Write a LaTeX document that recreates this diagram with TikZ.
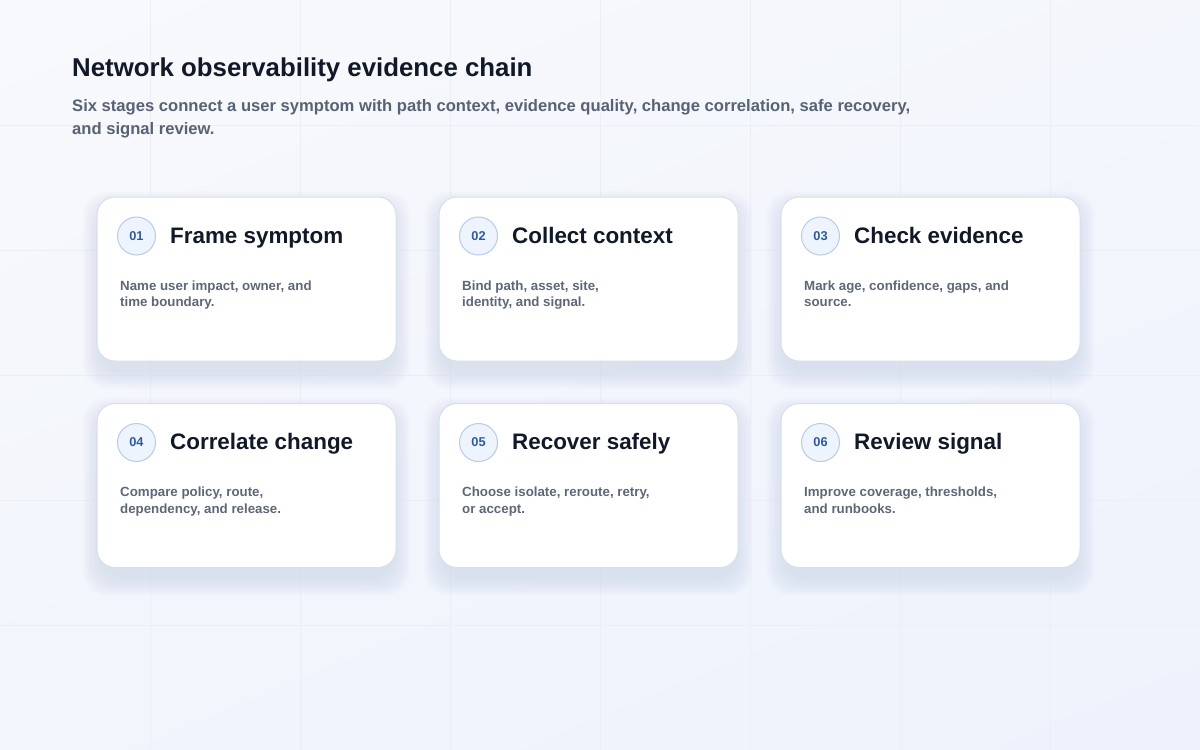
\documentclass[tikz,border=0pt]{standalone}
\usepackage{fontspec}
\setmainfont{Liberation Sans}
\usetikzlibrary{shadings}
\definecolor{ink}{HTML}{111827}
\definecolor{slate}{HTML}{586274}
\definecolor{mute}{HTML}{5E6777}
\definecolor{edge}{HTML}{D8DFEA}
\definecolor{pill}{HTML}{EEF4FD}
\definecolor{pilledge}{HTML}{B9CBE5}
\definecolor{pillink}{HTML}{2F5B9E}
\definecolor{gridline}{HTML}{EAEEF5}
\definecolor{shadowc}{HTML}{8A95B0}
\definecolor{bgtop}{HTML}{F8F9FC}
\definecolor{bgbot}{HTML}{EDF2FC}

\begin{document}
\begin{tikzpicture}[x=1pt, y=-1pt]
		\tikzstyle{card}=[draw=edge, line width=1pt, fill=white, rounded corners=18pt, minimum width=299pt, minimum height=164pt, inner sep=0pt]
		\tikzstyle{badge}=[circle, draw=pilledge, line width=1pt, fill=pill, minimum size=38pt, inner sep=0pt, text=pillink, font=\fontsize{12.8}{14}\selectfont\bfseries]
		\tikzstyle{head}=[anchor=base west, inner sep=0pt, text=ink, font=\fontsize{22.4}{26}\selectfont\bfseries]
		\tikzstyle{note}=[anchor=north west, inner sep=0pt, align=left, text=mute, font=\fontsize{13.3}{16.5}\selectfont\bfseries]
		\useasboundingbox (0,0) rectangle (1200,750);
		% background and grid
		\shade[upper left=bgtop, upper right=bgtop!60!bgbot, lower left=bgtop!40!bgbot, lower right=bgbot] (0,0) rectangle (1200,750);
		\foreach \gx in {150,300,...,1050} \draw[gridline, line width=1pt] (\gx,0) -- (\gx,750);
		\foreach \gy in {125,250,...,625} \draw[gridline, line width=1pt] (0,\gy) -- (1200,\gy);
		% heading
		\node[anchor=base west, inner sep=0pt, text=ink, font=\fontsize{25.8}{30}\selectfont\bfseries] (title) at (72,76) {Network observability evidence chain};
		\node[anchor=north west, inner sep=0pt, align=left, text=slate, font=\fontsize{16.6}{23}\selectfont\bfseries] (subtitle) at (72,99.5) {Six stages connect a user symptom with path context, evidence quality, change correlation, safe recovery,\\and signal review.};
		% soft shadows under the cards
		\foreach \cx/\cy in {246.5/279, 588.5/279, 930.5/279, 246.5/485.5, 588.5/485.5, 930.5/485.5}
			\foreach \i in {1,...,14}
				\fill[shadowc, opacity=0.01, rounded corners=24pt] (\cx-146-\i*1.3, \cy-70-\i*1.3) rectangle (\cx+146+\i*1.3, \cy+92+\i*1.3);
		% cards
		\node[card] (card1) at (246.5,279) {};
		\node[card] (card2) at (588.5,279) {};
		\node[card] (card3) at (930.5,279) {};
		\node[card] (card4) at (246.5,485.5) {};
		\node[card] (card5) at (588.5,485.5) {};
		\node[card] (card6) at (930.5,485.5) {};
		\node[badge] (badge1) at (136.5,236) {01};
		\node[badge] (badge2) at (478.5,236) {02};
		\node[badge] (badge3) at (820.5,236) {03};
		\node[badge] (badge4) at (136.5,442.5) {04};
		\node[badge] (badge5) at (478.5,442.5) {05};
		\node[badge] (badge6) at (820.5,442.5) {06};
		\node[head] (head1) at (170,243) {Frame symptom};
		\node[head] (head2) at (512,243) {Collect context};
		\node[head] (head3) at (854,243) {Check evidence};
		\node[head] (head4) at (170,449.5) {Correlate change};
		\node[head] (head5) at (512,449.5) {Recover safely};
		\node[head] (head6) at (854,449.5) {Review signal};
		\node[note] (note1) at (120,280.5) {Name user impact, owner, and\\time boundary.};
		\node[note] (note2) at (462,280.5) {Bind path, asset, site,\\identity, and signal.};
		\node[note] (note3) at (804,280.5) {Mark age, confidence, gaps, and\\source.};
		\node[note] (note4) at (120,487) {Compare policy, route,\\dependency, and release.};
		\node[note] (note5) at (462,487) {Choose isolate, reroute, retry,\\or accept.};
		\node[note] (note6) at (804,487) {Improve coverage, thresholds,\\and runbooks.};
\end{tikzpicture}
\end{document}
